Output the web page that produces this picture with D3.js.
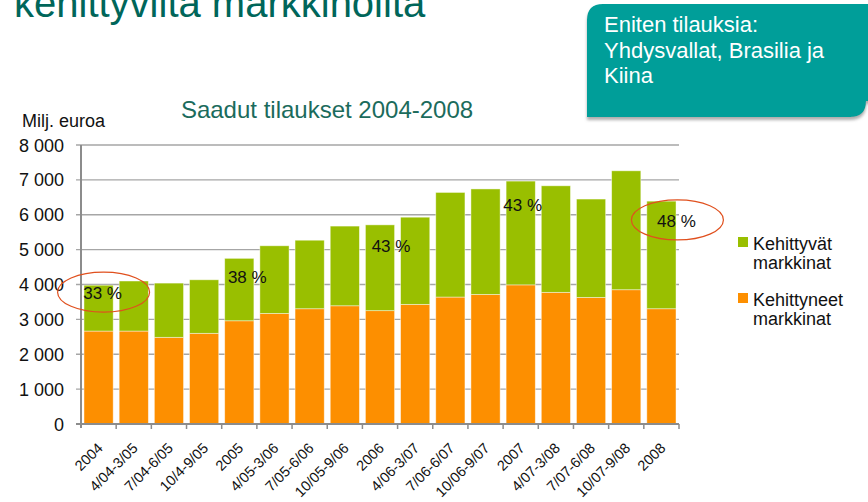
<!DOCTYPE html>
<html>
<head>
<meta charset="utf-8">
<script src="https://cdn.jsdelivr.net/npm/d3@7"></script>
<style>
  html, body { margin: 0; padding: 0; background: #fff; }
  svg { display: block; font-family: "Liberation Sans", Arial, sans-serif; }
</style>
</head>
<body>
<div id="chart"></div>
<script>
// Periods on the x axis
const categories = ["2004", "4/04-3/05", "7/04-6/05", "10/4-9/05", "2005", "4/05-3/06", "7/05-6/06",
    "10/05-9/06", "2006", "4/06-3/07", "7/06-6/07", "10/06-9/07", "2007", "4/07-3/08", "7/07-6/08",
    "10/07-9/08", "2008"];
// Kehittyneet markkinat (orange, bottom)
const developed = [2665, 2665, 2485, 2600, 2960, 3170, 3305, 3390, 3250, 3430, 3640, 3715, 3990, 3775, 3630, 3850, 3305];
// Kehittyvät markkinat (green, top)
const emerging = [1315, 1435, 1555, 1535, 1790, 1940, 1965, 2285, 2460, 2500, 3000, 3025, 2975, 3055, 2820, 3410, 3085];
const yTicks = [0, 1000, 2000, 3000, 4000, 5000, 6000, 7000, 8000];
// share labels written inside the bars
const shareLabels = [
    { cat: "2004", text: "33 %", y: 3580, circled: true },
    { cat: "2005", text: "38 %", y: 4040, circled: false },
    { cat: "2006", text: "43 %", y: 4930, circled: false },
    { cat: "2007", text: "43 %", y: 6100, circled: false },
    { cat: "2008", text: "48 %", y: 5650, circled: true }
];
const seriesNames = [["Kehittyvät", "markkinat"], ["Kehittyneet", "markkinat"]];
const calloutLines = ["Eniten tilauksia:", "Yhdysvallat, Brasilia ja", "Kiina"];

const W = 868, H = 502;
const green = "#99bf00", orange = "#fd8f00", teal = "#1b6b5c";
const svg = d3.select("#chart").append("svg").attr("width", W).attr("height", H);

// slide heading, cut by the top edge
svg.append("text").attr("x", 14).attr("y", 17)
    .attr("font-size", 40).attr("fill", "#00665a")
    .text("kehittyviltä markkinoilta");

// callout box (rounded top-left / bottom-right)
const bx = 587, by = 4, bh = 113, r = 16;
const defs = svg.append("defs");
const f = defs.append("filter").attr("id", "shadow").attr("x", "-5%").attr("y", "-5%").attr("width", "120%").attr("height", "130%");
f.append("feDropShadow").attr("dx", 0).attr("dy", 3).attr("stdDeviation", 1.5).attr("flood-color", "#777").attr("flood-opacity", 0.6);
svg.append("path")
    .attr("d", `M${bx},${by + r} Q${bx},${by} ${bx + r},${by} L${W + 10},${by} L${W + 10},${by + bh - r}
        L${W - 2},${by + bh - r} Q${W - 2},${by + bh} ${W - 2 - r},${by + bh} L${bx},${by + bh} Z`)
    .attr("fill", "#009e99").attr("filter", "url(#shadow)");
svg.append("g").selectAll("text").data(calloutLines).join("text")
    .attr("x", 604).attr("y", (d, i) => 32 + i * 25.5)
    .attr("font-size", 22).attr("fill", "#fff")
    .text(d => d);

// plot area
const pLeft = 81, pRight = 679, pTop = 145, pBottom = 424;
const x = d3.scaleBand().domain(categories).range([pLeft, pRight]).paddingInner(0.17).paddingOuter(0.085);
const xb = d3.scaleBand().domain(categories).range([pLeft, pRight]);
const y = d3.scaleLinear().domain([0, 8000]).range([pBottom, pTop]);
const fmt = d3.formatLocale({ decimal: ",", thousands: " ", grouping: [3], currency: ["", " €"] }).format(",d");

svg.append("text").attr("x", 327).attr("y", 118).attr("text-anchor", "middle")
    .attr("font-size", 24).attr("fill", teal).text("Saadut tilaukset 2004-2008");
svg.append("text").attr("x", 22).attr("y", 127).attr("font-size", 18).attr("fill", "#111").text("Milj. euroa");

// gridlines
svg.append("g").selectAll("line").data(yTicks.filter(d => d > 0)).join("line")
    .attr("x1", pLeft - 5).attr("x2", pRight).attr("y1", d => y(d)).attr("y2", d => y(d))
    .attr("stroke", "#a6a6a6").attr("stroke-width", 1.3);

// y tick labels
svg.append("g").selectAll("text").data(yTicks).join("text")
    .attr("x", 64).attr("y", d => y(d) + 6.5).attr("text-anchor", "end")
    .attr("font-size", 18).attr("fill", "#111").text(d => fmt(d));

// stacked bars
const rows = categories.map((c, i) => ({ cat: c, developed: developed[i], emerging: emerging[i] }));
const stack = d3.stack().keys(["developed", "emerging"])(rows);
const colors = { developed: orange, emerging: green };
svg.append("g").selectAll("g").data(stack).join("g")
    .attr("fill", s => colors[s.key])
    .selectAll("rect").data(s => s).join("rect")
    .attr("x", d => x(d.data.cat)).attr("width", x.bandwidth())
    .attr("y", d => y(d[1])).attr("height", d => y(d[0]) - y(d[1]))
    .attr("stroke", "rgba(255,255,255,0.55)").attr("stroke-width", 0.8);

// axes lines
svg.append("line").attr("x1", pLeft).attr("x2", pLeft).attr("y1", pTop).attr("y2", pBottom + 4)
    .attr("stroke", "#8c8c8c").attr("stroke-width", 2);
svg.append("line").attr("x1", pLeft - 5).attr("x2", pRight).attr("y1", pBottom).attr("y2", pBottom)
    .attr("stroke", "#8c8c8c").attr("stroke-width", 2);
svg.append("g").selectAll("line").data(categories).join("line")
    .attr("x1", d => xb(d) + xb.bandwidth()).attr("x2", d => xb(d) + xb.bandwidth())
    .attr("y1", pBottom).attr("y2", pBottom + 5)
    .attr("stroke", "#8c8c8c").attr("stroke-width", 1.5);

// x labels
svg.append("g").selectAll("text").data(categories).join("text")
    .attr("transform", d => `translate(${xb(d) + xb.bandwidth() / 2 + 5},${pBottom + 25}) rotate(-45)`)
    .attr("text-anchor", "end").attr("font-size", 14.5).attr("fill", "#111")
    .text(d => d);

// share labels
const labelDx = [4, 8, 11, 2, 15];
const lab = svg.append("g");
shareLabels.forEach((d, i) => {
    const cx = xb(d.cat) + xb.bandwidth() / 2 + labelDx[i];
    lab.append("text").attr("x", cx).attr("y", y(d.y)).attr("text-anchor", "middle")
        .attr("font-size", 17).attr("fill", "#111").text(d.text);
    if (d.circled) {
        lab.append("ellipse").attr("cx", cx + 1).attr("cy", y(d.y) - 7).attr("rx", 46).attr("ry", 20)
            .attr("fill", "none").attr("stroke", "#e0501e").attr("stroke-width", 1.2);
    }
});

// legend
const legend = svg.append("g").attr("transform", "translate(738,237)");
[green, orange].forEach((c, i) => {
    const g = legend.append("g").attr("transform", `translate(0,${i * 56})`);
    g.append("rect").attr("width", 10).attr("height", 10).attr("fill", c);
    g.selectAll("text").data(seriesNames[i]).join("text")
        .attr("x", 15).attr("y", (d, j) => 13 + j * 19)
        .attr("font-size", 18).attr("fill", "#111").text(d => d);
});
</script>
</body>
</html>
